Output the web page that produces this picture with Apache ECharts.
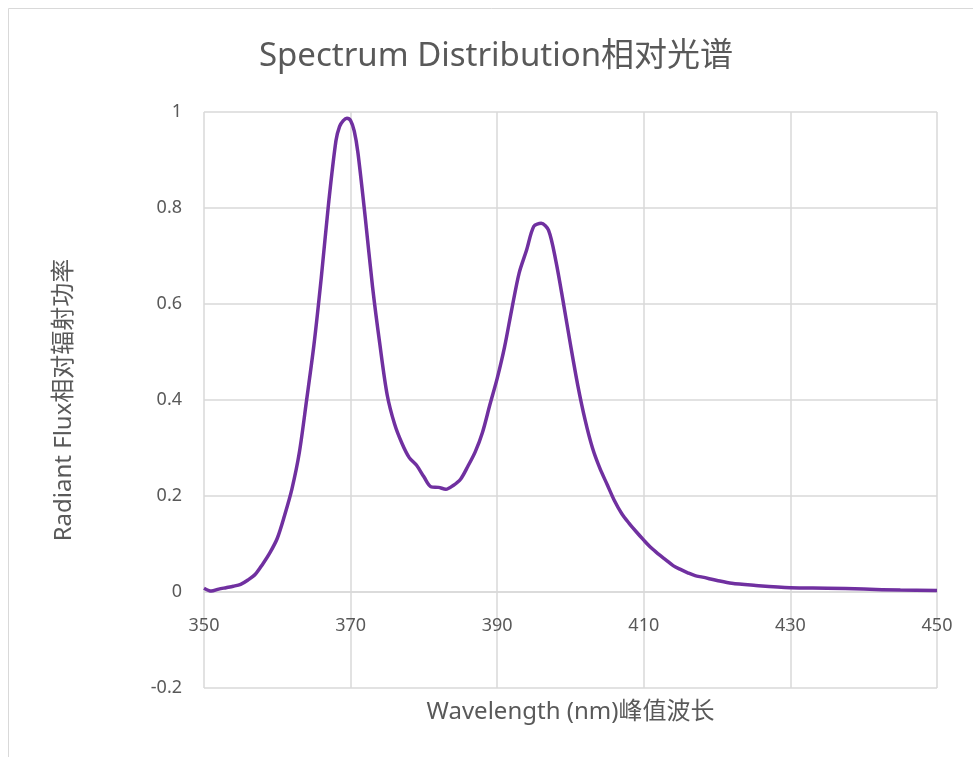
<!DOCTYPE html>
<html><head><meta charset="utf-8">
<script src="https://cdn.jsdelivr.net/npm/echarts@6/dist/echarts.min.js"></script>
<style>html,body{margin:0;padding:0;background:#fff}#c{width:973px;height:757px}</style>
</head><body><div id="c"></div>
<script>
const wavelengths = [350,351,352,353,354,355,356,357,358,359,360,361,362,363,364,365,366,367,368,368.5,369,369.5,370,370.5,371,372,373,374,375,376,377,378,379,380,381,382,383,384,385,386,387,388,389,390,391,392,393,394,395,396,397,398,399,400,401,402,403,404,405,406,407,408,409,410,411,412,413,414,415,416,417,418,420,422,425,430,435,440,445,450];
const flux = [0.008,0.002,0.006,0.009,0.012,0.016,0.025,0.037,0.058,0.082,0.112,0.160,0.215,0.290,0.400,0.515,0.655,0.810,0.940,0.970,0.982,0.987,0.982,0.960,0.915,0.780,0.635,0.515,0.410,0.350,0.310,0.280,0.264,0.240,0.219,0.218,0.214,0.222,0.235,0.262,0.292,0.333,0.390,0.445,0.510,0.590,0.665,0.712,0.762,0.768,0.754,0.690,0.605,0.515,0.430,0.358,0.300,0.258,0.224,0.190,0.163,0.143,0.125,0.108,0.092,0.079,0.067,0.055,0.047,0.040,0.034,0.031,0.024,0.018,0.014,0.009,0.008,0.006,0.004,0.003];
const titleText = 'Spectrum Distribution相对光谱';
const xName = 'Wavelength (nm)峰值波长';
const yName = 'Radiant Flux相对辐射功率';

const data = wavelengths.map((w, i) => [w, flux[i]]);
const font = '"Noto Sans", "Noto Sans CJK SC", sans-serif';
const chart = echarts.init(document.getElementById('c'));
chart.setOption({
  animation: false,
  backgroundColor: '#fff',
  graphic: [{type:'rect', shape:{x:8.5,y:8.5,width:1000,height:1000}, style:{fill:'none', stroke:'#d9d9d9', lineWidth:1}, silent:true}],
  title: {text: titleText, left: 491, textAlign: 'center', top: 35, textStyle:{fontFamily: font, fontSize: 33, fontWeight:'normal', color:'#595959'}},
  grid: {left: 204, right: 36, top: 112, bottom: 69, containLabel: false, outerBoundsMode: 'none'},
  xAxis: {
    type: 'value', min: 350, max: 450, interval: 20,
    offset: -96,
    name: xName, nameLocation: 'middle', nameGap: 108,
    nameTextStyle: {fontFamily: font, fontSize: 24, color:'#595959'},
    axisLine: {show: true, onZero: false, lineStyle:{color:'#d9d9d9', width:1.5}},
    axisTick: {show:false},
    axisLabel: {margin: 25, fontFamily: font, fontSize: 18, color:'#595959'},
    splitLine: {show:true, lineStyle:{color:'#d9d9d9', width:1.5}}
  },
  yAxis: {
    type: 'value', min: -0.2, max: 1, interval: 0.2,
    name: yName, nameLocation: 'middle', nameGap: 128,
    nameTextStyle: {fontFamily: font, fontSize: 24, color:'#595959'},
    axisLine: {show:false}, axisTick:{show:false},
    axisLabel: {margin: 22, fontFamily: font, fontSize: 18, color:'#595959', formatter: v => String(Math.round(v*10)/10)},
    splitLine: {show:true, lineStyle:{color:'#d9d9d9', width:1.5}}
  },
  series: [{type:'line', data: data, smooth: 0.3, showSymbol:false, lineStyle:{color:'#7030a0', width:3.5}, itemStyle:{color:'#7030a0'}}]
});
</script></body></html>
